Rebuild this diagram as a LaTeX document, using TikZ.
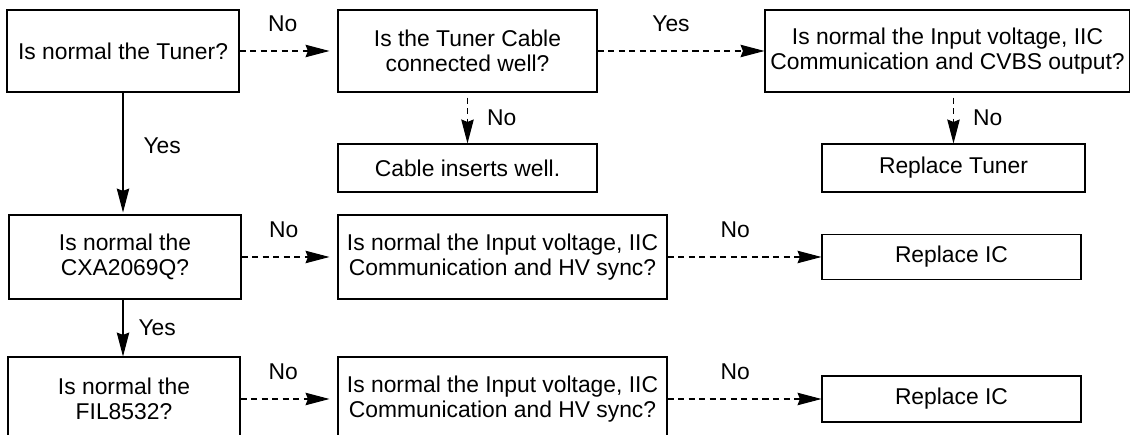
\documentclass[tikz,border=0pt]{standalone}
\usepackage{fontspec}
\setmainfont{Liberation Sans}
\usetikzlibrary{arrows.meta,positioning}

\begin{document}
\begin{tikzpicture}[
  box/.style={rectangle, draw, align=center, inner sep=2pt, line width=0.6pt},
  yes/.style={-{Stealth[length=0.48cm,width=0.25cm,inset=0.05cm]}, line width=0.6pt},
  no/.style={yes, dash pattern=on 3.5pt off 2.5pt},
  lbl/.style={inner sep=0pt},
  every node/.append style={font=\fontsize{13}{14.2}\selectfont}
]

\clip (0,0) rectangle (22.6,-8.7);

% row 1
\node[box, minimum width=4.64cm, minimum height=1.64cm] (tuner) at (2.46,-1.02) {Is normal the Tuner?};
\node[box, minimum width=5.18cm, minimum height=1.64cm] (cable) at (9.35,-1.02) {Is the Tuner Cable\\ connected well?};
\node[box, minimum width=7.3cm, minimum height=1.64cm] (cvbs) at (18.95,-1.02) {Is normal the Input voltage, IIC\\ Communication and CVBS output?};
\node[box, minimum width=5.18cm, minimum height=0.96cm] (insert) at (9.35,-3.36) {Cable inserts well.};
\node[box, minimum width=5.26cm, minimum height=0.96cm] (reptuner) at (19.07,-3.36) {Replace Tuner};

% row 2
\node[box, minimum width=4.64cm, minimum height=1.68cm] (cxa) at (2.50,-5.14) {Is normal the\\ CXA2069Q?};
\node[box, minimum width=6.58cm, minimum height=1.68cm] (hvcxa) at (10.05,-5.14) {Is normal the Input voltage, IIC\\ Communication and HV sync?};
\node[box, minimum width=5.18cm, minimum height=0.90cm] (repcxa) at (19.03,-5.14) {Replace IC};

% row 3
\node[box, minimum width=4.64cm, minimum height=1.68cm] (fil) at (2.48,-7.98) {Is normal the\\ FIL8532?};
\node[box, minimum width=6.58cm, minimum height=1.68cm] (hvfil) at (10.05,-7.98) {Is normal the Input voltage, IIC\\ Communication and HV sync?};
\node[box, minimum width=5.18cm, minimum height=0.92cm] (repfil) at (19.03,-7.98) {Replace IC};

\draw[no, shorten >=0.16cm] (tuner) -- (cable)
  node[lbl, pos=0.44, above=0.38cm] {No};
\draw[no] (cable) -- (cvbs)
  node[lbl, pos=0.44, above=0.38cm] {Yes};
\draw[no, shorten <=0.1cm] (cable) -- (insert)
  node[lbl, midway, right=0.38cm] {No};
\draw[no, shorten <=0.1cm] (cvbs.south -| reptuner) -- (reptuner)
  node[lbl, midway, right=0.38cm] {No};
\draw[yes, shorten >=0.04cm] (tuner.south) -- (tuner.south |- cxa.north)
  node[lbl, pos=0.44, right=0.4cm] {Yes};

\draw[no, shorten >=0.16cm] (cxa) -- (hvcxa)
  node[lbl, pos=0.44, above=0.38cm] {No};
\draw[no] (hvcxa) -- (repcxa)
  node[lbl, pos=0.44, above=0.38cm] {No};
\draw[yes] (cxa.south -| tuner.south) -- (tuner.south |- fil.north)
  node[lbl, midway, right=0.3cm] {Yes};

\draw[no, shorten >=0.16cm] (fil) -- (hvfil)
  node[lbl, pos=0.44, above=0.38cm] {No};
\draw[no] (hvfil) -- (repfil)
  node[lbl, pos=0.44, above=0.38cm] {No};

\end{tikzpicture}
\end{document}
